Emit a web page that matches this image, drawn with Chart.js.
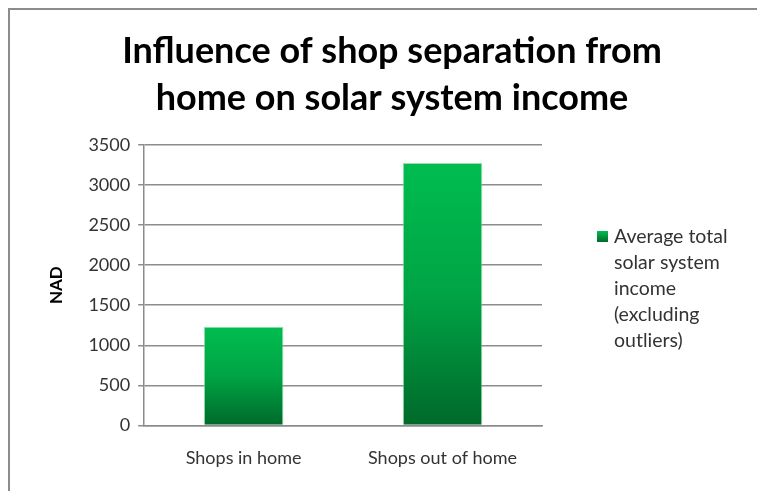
<!DOCTYPE html>
<html>
<head>
<meta charset="utf-8">
<script src="https://cdn.jsdelivr.net/npm/chart.js"></script>
<style>
    html, body { margin: 0; padding: 0; background: #fff; }
    #wrap { position: relative; width: 757px; height: 491px; overflow: hidden; }
    #frame {
        position: absolute; left: 8px; top: 8px; width: 800px; height: 600px;
        border-left: 2px solid #8c8c8c; border-top: 2px solid #8c8c8c;
    }
    canvas { position: absolute; left: 0; top: 0; }
</style>
</head>
<body>
<div id="wrap">
    <div id="frame"></div>
    <canvas id="chart" width="757" height="491"></canvas>
</div>
<script>
// Chart data
const categories = ['Shops in home', 'Shops out of home'];
const incomeValues = [1230, 3275];
const seriesLabel = ['Average total', 'solar system', 'income', '(excluding', 'outliers)'];
const titleLines = ['Influence of shop separation from', 'home on solar system income'];
const yTicks = [0, 500, 1000, 1500, 2000, 2500, 3000, 3500];

const FONT = 'Lato, "Open Sans", sans-serif';

// Vertical green gradient for each bar (light top, dark bottom)
const barGradient = (context) => {
    const chart = context.chart;
    if (!chart.chartArea || context.dataIndex === undefined) return '#00a84a';
    const yScale = chart.scales.y;
    const top = yScale.getPixelForValue(context.raw);
    const bottom = yScale.getPixelForValue(0);
    const g = chart.ctx.createLinearGradient(0, top, 0, bottom);
    g.addColorStop(0, '#00bd50');
    g.addColorStop(0.5, '#00a444');
    g.addColorStop(1, '#00692b');
    return g;
};

// Title and wrapped legend, drawn on the canvas
const decorations = {
    id: 'decorations',
    afterDraw(chart) {
        const ctx = chart.ctx;
        ctx.save();

        // title
        ctx.fillStyle = '#000';
        ctx.font = 'bold 36px ' + FONT;
        ctx.textAlign = 'center';
        ctx.textBaseline = 'middle';
        titleLines.forEach((line, i) => ctx.fillText(line, 392, 51 + i * 47));

        // legend
        const x = 597, y = 231;
        const g = ctx.createLinearGradient(0, y, 0, y + 11);
        g.addColorStop(0, '#00bd50');
        g.addColorStop(1, '#00692b');
        ctx.fillStyle = g;
        ctx.fillRect(x, y, 11, 11);
        ctx.fillStyle = '#333';
        ctx.font = '19.5px ' + FONT;
        ctx.textAlign = 'left';
        seriesLabel.forEach((line, i) => ctx.fillText(line, x + 17, y + 6 + i * 26));
        ctx.restore();
    }
};

const ctx = document.getElementById('chart').getContext('2d');
new Chart(ctx, {
    type: 'bar',
    data: {
        labels: categories,
        datasets: [{
            label: seriesLabel.join(' '),
            data: incomeValues,
            backgroundColor: barGradient,
            borderColor: 'rgba(120, 220, 150, 0.8)',
            borderWidth: 1,
            borderSkipped: 'bottom',
            barPercentage: 0.8,
            categoryPercentage: 0.5
        }]
    },
    options: {
        responsive: false,
        animation: false,
        layout: { padding: { left: 42, right: 215, top: 145, bottom: 0 } },
        plugins: {
            legend: { display: false },
            tooltip: { enabled: false },
            title: { display: false }
        },
        scales: {
            x: {
                grid: { display: false, drawTicks: false },
                border: { color: '#8c8c8c', width: 1.5 },
                ticks: { color: '#333', font: { family: FONT, size: 18 }, padding: 22 }
            },
            y: {
                min: 0,
                max: 3500,
                afterBuildTicks: (axis) => { axis.ticks = yTicks.map(v => ({ value: v })); },
                grid: { color: '#8c8c8c', lineWidth: 1.5, tickLength: 6 },
                border: { color: '#8c8c8c', width: 1.5 },
                ticks: {
                    color: '#333',
                    font: { family: FONT, size: 18 },
                    padding: 8,
                    callback: (v) => String(v)
                },
                title: {
                    display: true,
                    text: 'NAD',
                    color: '#000',
                    font: { family: FONT, size: 17, weight: 'bold' },
                    padding: { bottom: 14 }
                }
            }
        }
    },
    plugins: [decorations]
});
</script>
</body>
</html>
